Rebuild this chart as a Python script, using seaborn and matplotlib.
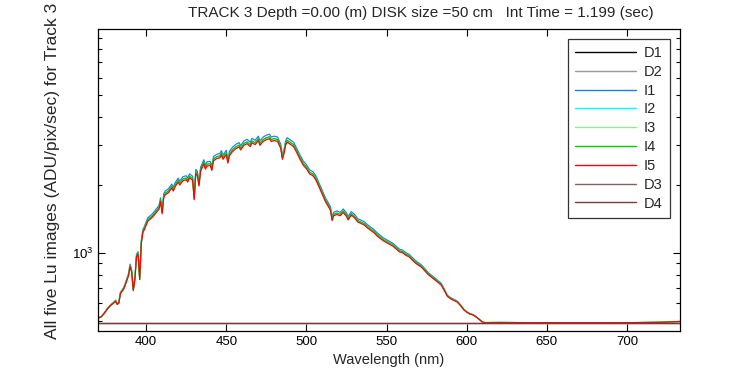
import pandas as pd
import matplotlib
matplotlib.use("Agg")
import matplotlib.pyplot as plt
import seaborn as sns

# --- data ---
wavelength = [370, 372, 374, 376, 378, 380, 381, 382, 383, 384, 386, 387, 389, 390, 391, 392, 393, 394,
              395, 396, 397, 398, 399, 401, 402, 404, 406, 408, 409, 410, 411, 412, 414, 416, 417, 418,
              420, 421, 423, 425, 426, 427, 429, 430, 431, 432, 433, 434, 436, 437, 438, 440, 441, 442,
              444, 446, 447, 448, 450, 451, 452, 454, 456, 458, 459, 461, 463, 465, 466, 468, 470, 471,
              473, 475, 477, 478, 480, 482, 484, 485, 486, 487, 488, 490, 492, 494, 496, 498, 500, 502,
              504, 506, 508, 510, 512, 514, 515, 516, 517, 519, 521, 523, 525, 526, 528, 530, 532, 534,
              536, 538, 540, 542, 544, 546, 548, 550, 552, 554, 556, 558, 560, 562, 564, 566, 568, 570,
              572, 574, 576, 578, 580, 582, 584, 586, 588, 590, 592, 594, 596, 598, 600, 602, 604, 606,
              608, 610, 612, 620, 640, 660, 680, 700, 720, 728, 733]

i1 = [513, 522, 543, 569, 590, 606, 617, 596, 604, 669, 701, 733, 807, 891, 838, 691, 775, 986,
      1012, 775, 1134, 1271, 1313, 1429, 1450, 1492, 1556, 1619, 1756, 1545, 1830, 1883, 1925, 2020, 1957, 2041,
      2146, 2083, 2178, 2199, 2146, 2241, 2189, 1788, 2347, 2294, 2062, 2400, 2590, 2452, 2537, 2547, 2421, 2674,
      2737, 2758, 2843, 2716, 2853, 2611, 2822, 2948, 3033, 3085, 2990, 3138, 3191, 3096, 3223, 3159, 3296, 3138,
      3265, 3328, 3360, 3265, 3296, 3265, 3033, 2716, 2874, 3138, 3244, 3170, 3096, 2906, 2716, 2558, 2463, 2336,
      2294, 2189, 2030, 1883, 1746, 1651, 1598, 1440, 1513, 1535, 1513, 1566, 1503, 1450, 1524, 1482, 1418, 1397,
      1376, 1334, 1302, 1271, 1229, 1197, 1165, 1144, 1123, 1102, 1070, 1039, 1028, 1002, 986, 954, 923, 902,
      880, 849, 817, 796, 775, 754, 733, 691, 648, 632, 622, 611, 590, 564, 548, 538, 532, 520,
      506, 492, 489, 490, 490, 490, 490, 490, 491, 494, 496]

i2 = [512, 520, 541, 566, 586, 602, 612, 592, 600, 663, 693, 723, 795, 876, 825, 683, 764, 967,
      992, 764, 1109, 1241, 1282, 1393, 1414, 1454, 1515, 1576, 1708, 1505, 1779, 1830, 1870, 1962, 1901, 1982,
      2084, 2023, 2114, 2134, 2084, 2175, 2124, 1738, 2276, 2226, 2002, 2327, 2510, 2378, 2459, 2469, 2347, 2591,
      2652, 2672, 2753, 2632, 2764, 2530, 2733, 2855, 2936, 2987, 2896, 3038, 3088, 2997, 3119, 3058, 3190, 3038,
      3159, 3220, 3251, 3159, 3190, 3159, 2936, 2632, 2784, 3038, 3139, 3068, 2997, 2814, 2632, 2479, 2388, 2266,
      2226, 2124, 1972, 1830, 1698, 1607, 1556, 1404, 1475, 1495, 1475, 1525, 1464, 1414, 1485, 1444, 1383, 1363,
      1343, 1302, 1272, 1241, 1201, 1170, 1140, 1119, 1099, 1079, 1048, 1018, 1008, 982, 967, 937, 906, 886,
      866, 835, 805, 784, 764, 744, 723, 683, 642, 627, 617, 607, 586, 561, 546, 536, 531, 518,
      505, 492, 490, 491, 490, 490, 490, 490, 492, 494, 496]

i3 = [512, 520, 541, 566, 586, 602, 612, 592, 600, 663, 693, 723, 795, 876, 825, 683, 764, 967,
      992, 764, 1109, 1241, 1282, 1393, 1414, 1454, 1515, 1576, 1708, 1505, 1779, 1830, 1870, 1962, 1901, 1982,
      2084, 2023, 2114, 2134, 2084, 2175, 2124, 1738, 2276, 2226, 2002, 2327, 2510, 2378, 2459, 2469, 2347, 2591,
      2652, 2672, 2753, 2632, 2764, 2530, 2733, 2855, 2936, 2987, 2896, 3038, 3088, 2997, 3119, 3058, 3190, 3038,
      3159, 3220, 3251, 3159, 3190, 3159, 2936, 2632, 2784, 3038, 3139, 3068, 2997, 2814, 2632, 2479, 2388, 2266,
      2226, 2124, 1972, 1830, 1698, 1607, 1556, 1404, 1475, 1495, 1475, 1525, 1464, 1414, 1485, 1444, 1383, 1363,
      1343, 1302, 1272, 1241, 1201, 1170, 1140, 1119, 1099, 1079, 1048, 1018, 1008, 982, 967, 937, 906, 886,
      866, 835, 805, 784, 764, 744, 723, 683, 642, 627, 617, 607, 586, 561, 546, 536, 531, 518,
      505, 492, 490, 491, 490, 490, 490, 490, 492, 494, 496]

i4 = [513, 521, 541, 567, 587, 603, 613, 593, 601, 664, 695, 726, 798, 880, 828, 685, 767, 972,
      997, 767, 1115, 1249, 1290, 1402, 1423, 1464, 1525, 1587, 1720, 1515, 1792, 1843, 1884, 1976, 1915, 1997,
      2099, 2038, 2130, 2151, 2099, 2192, 2140, 1751, 2294, 2243, 2017, 2345, 2530, 2397, 2479, 2489, 2366, 2612,
      2673, 2694, 2776, 2653, 2786, 2550, 2755, 2878, 2960, 3012, 2919, 3063, 3114, 3022, 3145, 3083, 3217, 3063,
      3186, 3247, 3278, 3186, 3217, 3186, 2960, 2653, 2807, 3063, 3165, 3094, 3022, 2837, 2653, 2499, 2407, 2284,
      2243, 2140, 1987, 1843, 1710, 1618, 1566, 1413, 1484, 1505, 1484, 1536, 1474, 1423, 1495, 1454, 1392, 1372,
      1351, 1310, 1279, 1249, 1208, 1177, 1146, 1126, 1105, 1085, 1054, 1023, 1013, 987, 972, 941, 910, 890,
      869, 839, 808, 787, 767, 746, 726, 685, 644, 628, 618, 608, 587, 562, 546, 536, 531, 519,
      505, 492, 491, 492, 490, 490, 490, 490, 493, 494, 496]

i5 = [512, 520, 540, 565, 585, 600, 610, 590, 598, 660, 690, 720, 790, 870, 820, 680, 760, 960,
      985, 760, 1100, 1230, 1270, 1380, 1400, 1440, 1500, 1560, 1690, 1490, 1760, 1810, 1850, 1940, 1880, 1960,
      2060, 2000, 2090, 2110, 2060, 2150, 2100, 1720, 2250, 2200, 1980, 2300, 2480, 2350, 2430, 2440, 2320, 2560,
      2620, 2640, 2720, 2600, 2730, 2500, 2700, 2820, 2900, 2950, 2860, 3000, 3050, 2960, 3080, 3020, 3150, 3000,
      3120, 3180, 3210, 3120, 3150, 3120, 2900, 2600, 2750, 3000, 3100, 3030, 2960, 2780, 2600, 2450, 2360, 2240,
      2200, 2100, 1950, 1810, 1680, 1590, 1540, 1390, 1460, 1480, 1460, 1510, 1450, 1400, 1470, 1430, 1370, 1350,
      1330, 1290, 1260, 1230, 1190, 1160, 1130, 1110, 1090, 1070, 1040, 1010, 1000, 975, 960, 930, 900, 880,
      860, 830, 800, 780, 760, 740, 720, 680, 640, 625, 615, 605, 585, 560, 545, 535, 530, 518,
      505, 492, 489, 490, 490, 490, 490, 490, 491, 494, 496]

# dark images: flat floor
dark_wavelength = [370, 450, 550, 650, 733]
d1 = [487, 487, 487, 487, 487]
d2 = [487, 487, 487, 487, 487]
d3 = [488, 488, 488, 488, 488]
d4 = [488, 488, 488, 488, 488]

series_order = ["D1", "D2", "I1", "I2", "I3", "I4", "I5", "D3", "D4"]
series_colors = ["#000000", "#999999", "#1a7ef0", "#00ffff", "#90ee90",
                 "#00c800", "#ff0000", "#806060", "#803838"]

frames = []
for name, wl, vals in [("D1", dark_wavelength, d1), ("D2", dark_wavelength, d2),
                       ("I1", wavelength, i1), ("I2", wavelength, i2), ("I3", wavelength, i3),
                       ("I4", wavelength, i4), ("I5", wavelength, i5),
                       ("D3", dark_wavelength, d3), ("D4", dark_wavelength, d4)]:
    frames.append(pd.DataFrame({"wavelength": wl, "value": vals, "series": name}))
df = pd.concat(frames, ignore_index=True)

sns.set_theme(style="ticks")
plt.rcParams["font.family"] = ["Liberation Sans", "DejaVu Sans"]

fig = plt.figure(figsize=(7.5, 3.75), dpi=100)
ax = fig.add_axes([98 / 750, 1 - 331 / 375, (680 - 98) / 750, (331 - 28.5) / 375])

sns.lineplot(data=df, x="wavelength", y="value", hue="series", hue_order=series_order,
             palette=dict(zip(series_order, series_colors)), estimator=None, sort=False,
             linewidth=0.85, ax=ax)

ax.set_yscale("log")
ax.set_xlim(370, 733)
ax.set_ylim(450, 9900)
ax.set_xticks([400, 450, 500, 550, 600, 650, 700])
ax.tick_params(axis="both", which="both", direction="in", top=True, right=True,
               labelsize=9.5, colors="black", width=0.8)
ax.tick_params(axis="both", which="major", length=5)
ax.tick_params(axis="both", which="minor", length=3)
for s in ax.spines.values():
    s.set_color("black")
    s.set_linewidth(0.9)

ax.set_xlabel("Wavelength (nm)", fontsize=10.5, labelpad=4)
ax.set_ylabel("")
fig.text(53 / 750, 1 - 171 / 375, "All five Lu images (ADU/pix/sec) for Track 3",
         rotation=90, ha="center", va="center", fontsize=12.5)
fig.text(421 / 750, 1 - 13 / 375,
         "TRACK 3 Depth =0.00 (m) DISK size =50 cm   Int Time = 1.199 (sec)",
         ha="center", va="center", fontsize=11)

leg = ax.legend(loc="upper right", fontsize=10.5, frameon=True, fancybox=False,
                edgecolor="black", handlelength=4.2, handletextpad=0.5, labelspacing=0.33,
                borderaxespad=0.7, borderpad=0.5)
leg.get_frame().set_linewidth(0.9)
for line in leg.get_lines():
    line.set_linewidth(1.0)

fig.savefig("out.png", dpi=100, facecolor="white")
